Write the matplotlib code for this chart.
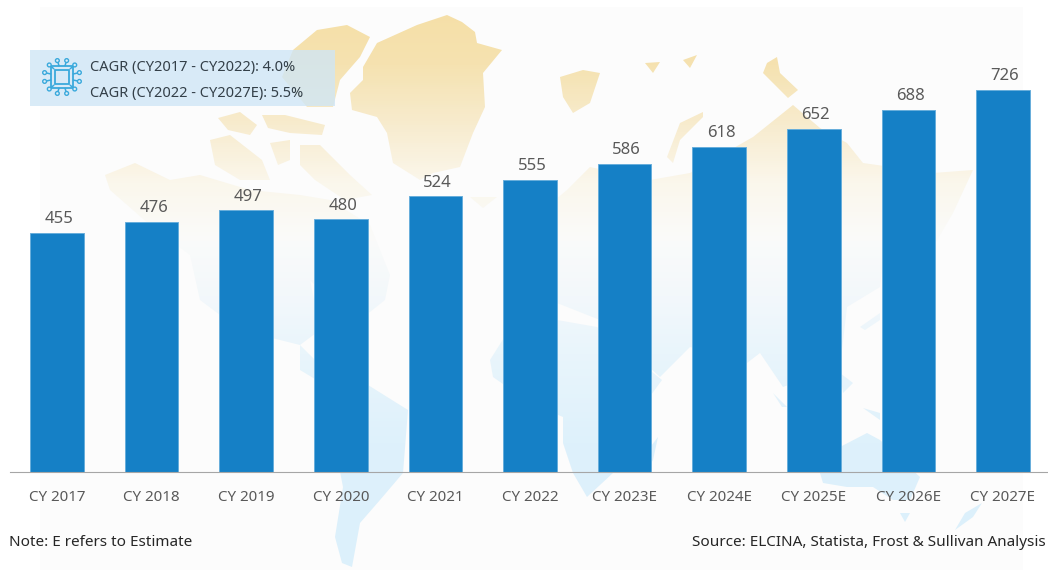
import numpy as np
import matplotlib
matplotlib.use("Agg")
import matplotlib.pyplot as plt
from matplotlib.colors import LinearSegmentedColormap
from matplotlib.patches import Circle, PathPatch, Rectangle
from matplotlib.path import Path

plt.rcParams['font.family'] = ['Noto Sans', 'DejaVu Sans']

# chart data
years = ['CY 2017', 'CY 2018', 'CY 2019', 'CY 2020', 'CY 2021', 'CY 2022',
         'CY 2023E', 'CY 2024E', 'CY 2025E', 'CY 2026E', 'CY 2027E']
values = [455, 476, 497, 480, 524, 555, 586, 618, 652, 688, 726]
cagr_lines = ['CAGR (CY2017 - CY2022): 4.0%', 'CAGR (CY2022 - CY2027E): 5.5%']
note_text = 'Note: E refers to Estimate'
source_text = 'Source: ELCINA, Statista, Frost & Sullivan Analysis'

# decorative world map outlines, in image pixels
land = [
    [(447,15),(462,22),(475,32),(477,43),(502,50),(483,73),(485,107),(473,133),(460,167),(433,173),(420,180),(393,163),(387,133),(377,117),(352,110),(350,93),(363,80),(363,67),(377,43),(417,25)],
    [(317,30),(347,25),(370,37),(360,57),(340,80),(333,107),(307,107),(282,77),(293,50)],
    [(218,118),(240,112),(257,125),(250,135),(228,130)],
    [(262,115),(285,115),(325,125),(322,135),(290,133),(268,128)],
    [(210,140),(230,135),(262,160),(270,180),(240,180),(215,165)],
    [(300,145),(320,145),(350,175),(372,195),(345,200),(315,180),(300,165)],
    [(270,143),(290,140),(290,160),(278,165)],
    [(105,175),(135,163),(170,180),(200,175),(250,190),(300,195),(330,200),(370,225),(390,275),(385,300),(360,320),(330,300),(310,280),(320,330),(300,345),(240,330),(200,300),(190,255),(150,225),(110,190)],
    [(300,345),(320,365),(340,380),(325,385),(300,370)],
    [(340,380),(368,385),(408,410),(403,473),(380,500),(360,523),(352,567),(342,563),(335,537),(343,487),(330,420),(325,400)],
    [(490,360),(507,333),(557,320),(597,327),(625,350),(662,380),(640,410),(613,473),(587,497),(573,473),(563,443),(563,417),(530,403),(493,377)],
    [(658,437),(653,460),(647,470),(648,450)],
    [(567,190),(590,167),(650,180),(690,173),(753,137),(793,105),(820,128),(847,143),(863,163),(933,173),(973,170),(953,213),(933,247),(883,257),(880,287),(847,307),(840,367),(815,375),(783,387),(760,353),(747,363),(690,347),(660,377),(625,345),(600,320),(557,303),(557,287),(545,240),(555,200)],
    [(703,112),(680,123),(667,157),(673,163),(680,140),(703,117)],
    [(560,77),(583,70),(600,73),(590,103),(573,113),(563,97)],
    [(645,63),(660,62),(653,73)],
    [(683,60),(697,55),(690,68)],
    [(767,63),(777,57),(780,73),(798,90),(788,98),(773,83),(763,73)],
    [(470,197),(497,197),(483,208)],
    [(840,447),(867,433),(880,440),(920,477),(910,500),(893,500),(873,487),(847,487),(823,483),(820,473)],
    [(900,513),(910,513),(905,522)],
    [(982,503),(973,517),(955,530),(965,513)],
    [(860,327),(880,313),(880,320),(865,330)],
    [(773,393),(787,407),(782,407)],
    [(840,373),(853,383),(843,393)],
    [(863,408),(880,413),(880,420)],
]

fig = plt.figure(figsize=(10.48, 5.70), dpi=100)

# background layer works in image pixels
bg = fig.add_axes([0, 0, 1, 1])
bg.axis('off')
bg.add_patch(Rectangle((40, 7), 983, 563, color='#fcfcfc', lw=0))

# map colour fades from yellow at the top to light blue at the bottom
stops = [(0.0, '#f5dfa6'), (0.11, '#f5e2b0'), (0.23, '#f8edd2'), (0.32, '#fbf7ec'),
         (0.42, '#fafbfa'), (0.52, '#f3f8fb'), (0.62, '#e9f5fb'), (0.78, '#def1fb'), (1.0, '#dcf0fb')]
cmap = LinearSegmentedColormap.from_list('map_fade', stops)
verts, codes = [], []
for shape in land:
    xs, ys = zip(*shape)
    # same winding everywhere so that overlapping shapes leave no holes
    if np.dot(xs, np.roll(ys, 1)) - np.dot(ys, np.roll(xs, 1)) < 0:
        shape = shape[::-1]
    verts += shape + [shape[0]]
    codes += [Path.MOVETO] + [Path.LINETO] * (len(shape) - 1) + [Path.CLOSEPOLY]
grad = np.linspace(0, 1, 570).reshape(-1, 1)
img = bg.imshow(grad, cmap=cmap, extent=(0, 1048, 570, 0), aspect='auto', zorder=1)
bg.set_xlim(0, 1048)
bg.set_ylim(570, 0)
clip = PathPatch(Path(verts, codes), transform=bg.transData, fc='none', ec='none')
bg.add_patch(clip)
img.set_clip_path(clip)

# CAGR box
bg.add_patch(Rectangle((30, 50), 305, 56, color='#cfe6f6', alpha=0.78, lw=0, zorder=2))
for txt, y in zip(cagr_lines, [67, 93]):
    bg.text(90, y, txt, fontsize=10.5, color='#333f48', va='center', ha='left', zorder=3)

# chip icon
chip = '#3aa9dc'
bg.add_patch(Rectangle((55, 70), 14, 14, fc='none', ec=chip, lw=1.3, zorder=3))
bg.add_patch(Rectangle((51, 66), 22, 22, fc='none', ec=chip, lw=1.3, zorder=3))
for a in np.deg2rad(np.arange(0, 360, 30) + 15):
    cx, cy = 62 + 18 * np.cos(a), 77 + 17 * np.sin(a)
    bg.plot([62 + 12 * np.cos(a), cx], [77 + 12 * np.sin(a), cy], color=chip, lw=1.1, zorder=3)
    bg.add_patch(Circle((cx, cy), 1.9, fc='#dcedf8', ec=chip, lw=1.0, zorder=3))

# bars on top
ax = fig.add_axes([10 / 1048, (570 - 472) / 570, 1038 / 1048, 472 / 570])
ax.patch.set_alpha(0)
x = np.arange(len(years))
ax.bar(x, values, width=0.565, color='#1580c6', edgecolor='#68aedb', linewidth=0.7)
for xi, v in zip(x, values):
    ax.annotate(str(v), (xi, v), xytext=(1.5, 4), textcoords='offset points',
                ha='center', va='bottom', fontsize=12, color='#595959')
ax.set_xlim(-0.497, 10.476)
ax.set_ylim(0, 897)
ax.set_xticks(x)
ax.set_xticklabels(years, fontsize=10.9, color='#595959')
ax.tick_params(axis='x', length=0, pad=13)
ax.set_yticks([])
for side in ['top', 'left', 'right']:
    ax.spines[side].set_visible(False)
ax.spines['bottom'].set_color('#a6a6a6')

fig.text(9 / 1048, 1 - 542 / 570, note_text, fontsize=11, color='#262626', va='center', ha='left')
fig.text(1046 / 1048, 1 - 542 / 570, source_text, fontsize=11, color='#262626', va='center', ha='right')

fig.savefig('out.png', dpi=100)
